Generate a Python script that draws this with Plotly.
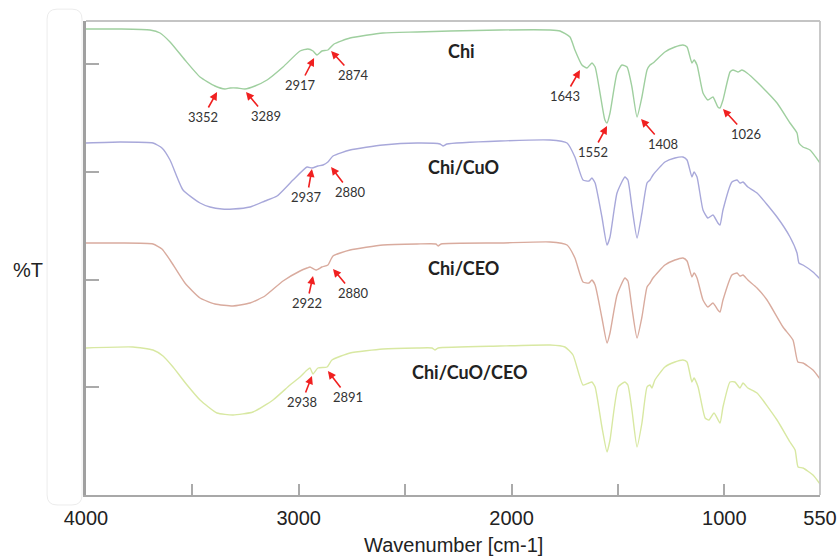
import plotly.graph_objects as go

# ---------------- data ----------------
wn_chi = [4000, 3840, 3699, 3652, 3605, 3535, 3464, 3394, 3347, 3323, 3290, 3253, 3206, 3149, 3074,
          2994, 2957, 2933, 2914, 2891, 2863, 2834, 2759, 2604, 2444, 2289, 2054, 1819, 1772, 1725,
          1702, 1669, 1645, 1622, 1607, 1584, 1561, 1551, 1537, 1504, 1481, 1457, 1434, 1410, 1387,
          1363, 1349, 1335, 1279, 1232, 1194, 1175, 1152, 1142, 1128, 1100, 1077, 1053, 1030, 1020,
          1006, 973, 959, 936, 917, 893, 846, 752, 691, 658, 649, 630, 597, 550]
t_chi = [466, 466, 465, 462, 453, 435, 418, 409, 406, 407, 407, 406, 409, 415, 428,
         444, 446, 444, 440, 444, 445, 451, 457, 462, 463, 464, 465, 465, 464, 458,
         445, 430, 427, 432, 428, 402, 375, 372, 382, 422, 430, 428, 408, 378, 398,
         425, 430, 432, 443, 448, 450, 448, 432, 435, 430, 402, 395, 398, 388, 387,
         395, 423, 425, 423, 425, 422, 413, 392, 372, 362, 352, 348, 345, 332]

wn_cuo = [4000, 3840, 3685, 3643, 3605, 3544, 3464, 3417, 3361, 3309, 3229, 3159, 3102, 3027, 2961,
          2938, 2910, 2886, 2863, 2839, 2759, 2604, 2444, 2336, 2322, 2303, 2054, 1819, 1739, 1702,
          1664, 1636, 1622, 1607, 1575, 1551, 1537, 1504, 1467, 1453, 1434, 1410, 1387, 1363, 1349,
          1335, 1279, 1232, 1194, 1175, 1152, 1142, 1128, 1100, 1077, 1053, 1030, 1020, 1006, 964,
          940, 926, 912, 889, 846, 752, 691, 658, 649, 630, 583, 550]
t_cuo = [352, 353, 352, 347, 335, 305, 292, 288, 286, 286, 288, 294, 299, 315, 328,
         327, 329, 330, 333, 339, 345, 350, 352, 351, 349, 351, 354, 355, 352, 338,
         315, 314, 317, 312, 278, 250, 258, 302, 318, 315, 288, 257, 282, 312, 315,
         320, 333, 337, 338, 335, 318, 323, 318, 285, 277, 280, 272, 270, 285, 313,
         315, 312, 313, 308, 302, 278, 258, 242, 232, 230, 223, 216]

wn_ceo = [4000, 3840, 3685, 3643, 3605, 3535, 3464, 3394, 3309, 3229, 3159, 3074, 2994, 2961, 2947,
          2919, 2891, 2863, 2839, 2759, 2604, 2444, 2355, 2345, 2331, 2054, 1819, 1739, 1702, 1664,
          1636, 1622, 1607, 1575, 1551, 1537, 1504, 1467, 1453, 1434, 1410, 1387, 1363, 1349, 1335,
          1279, 1232, 1194, 1175, 1152, 1142, 1128, 1100, 1077, 1053, 1030, 1020, 1006, 964, 940,
          926, 912, 889, 846, 799, 724, 677, 654, 630, 583, 550]
t_ceo = [252, 252, 251, 246, 235, 212, 197, 191, 189, 192, 199, 214, 224, 227, 228,
         225, 228, 230, 239, 245, 250, 251, 251, 249, 251, 252, 253, 250, 237, 213,
         212, 215, 210, 177, 152, 162, 200, 217, 214, 187, 157, 178, 208, 212, 217,
         230, 235, 237, 234, 218, 222, 217, 195, 188, 192, 185, 183, 195, 220, 222,
         219, 220, 215, 207, 195, 168, 155, 133, 132, 125, 116]

wn_cuoceo = [4000, 3779, 3685, 3638, 3591, 3525, 3464, 3384, 3309, 3215, 3121, 3041, 2994, 2961, 2947,
             2933, 2910, 2867, 2844, 2759, 2604, 2444, 2374, 2360, 2345, 2054, 1819, 1749, 1711, 1664,
             1636, 1622, 1607, 1575, 1551, 1537, 1499, 1467, 1453, 1434, 1410, 1387, 1363, 1349, 1340,
             1326, 1279, 1232, 1194, 1175, 1152, 1142, 1123, 1090, 1072, 1048, 1020, 1006, 973, 950,
             926, 912, 889, 846, 752, 691, 667, 653, 630, 583, 550]
t_cuoceo = [147, 148, 145, 139, 128, 110, 95, 82, 80, 83, 95, 110, 118, 125, 127,
            121, 127, 128, 135, 142, 146, 147, 147, 145, 147, 149, 150, 148, 140, 110,
            112, 113, 108, 68, 43, 55, 108, 113, 110, 85, 48, 72, 108, 110, 107,
            115, 128, 133, 135, 133, 113, 117, 108, 77, 75, 82, 72, 88, 113, 113,
            107, 112, 107, 102, 75, 53, 45, 28, 27, 20, 11]

sample_names = ["Chi", "Chi/CuO", "Chi/CEO", "Chi/CuO/CEO"]
peak_labels = [
    ["3352", "3289", "2917", "2874", "1643", "1552", "1408", "1026"],
    ["2937", "2880"],
    ["2922", "2880"],
    ["2938", "2891"],
]
x_ticks = [4000, 3500, 3000, 2500, 2000, 1500, 1000, 550]
x_tick_text = ["4000", "", "3000", "", "2000", "", "1000", "550"]
y_ticks = [108, 215.5, 323, 431]

# ---------------- styling / placement ----------------
colors = ["#9fcf9f", "#a8a8da", "#d9ab9e", "#d8e8a2"]
# arrow heads (x in cm-1, y in plot units) and text offsets (px) for each peak label
peak_place = [
    [(3384, 403, -14, 25), (3248, 403, 20, 24), (2928, 437, -14, 27), (2848, 444, 22, 24),
     (1678, 425, -15, 26), (1551, 369, -14, 26), (1391, 376, 22, 25), (1006, 386, 23, 25)],
    [(2938, 326, -5, 28), (2848, 328, 19, 25)],
    [(2933, 219, -6, 27), (2839, 226, 20, 24)],
    [(2938, 119, -10, 26), (2863, 124, 20, 26)],
]
name_place = [(2233, 444), (2228, 328), (2228, 227), (2195, 123)]

wn_all = [wn_chi, wn_cuo, wn_ceo, wn_cuoceo]
t_all = [t_chi, t_cuo, t_ceo, t_cuoceo]

fig = go.Figure()
for name, xs, ys, col in zip(sample_names, wn_all, t_all, colors):
    fig.add_trace(go.Scatter(x=xs, y=ys, mode="lines", name=name,
                             line=dict(color=col, width=1.4, shape="spline", smoothing=0.5),
                             hoverinfo="skip", showlegend=False))

annotations = []
for labels, places in zip(peak_labels, peak_place):
    for lab, (hx, hy, ax, ay) in zip(labels, places):
        annotations.append(dict(x=hx, y=hy, xref="x", yref="y", text=lab, showarrow=True,
                                ax=ax, ay=ay, arrowhead=2, arrowsize=1, arrowwidth=1.6,
                                arrowcolor="#f02020", standoff=0, startstandoff=0,
                                font=dict(family="Lato", size=13, color="#333333")))
for name, (nx, ny) in zip(sample_names, name_place):
    annotations.append(dict(x=nx, y=ny, xref="x", yref="y", text="<b>" + name + "</b>",
                            showarrow=False, font=dict(family="Lato", size=18, color="#222222")))

annotations.append(dict(x=0.5, y=-0.106, xref="paper", yref="paper", text="Wavenumber [cm-1]",
                        showarrow=False, xanchor="center", yanchor="middle",
                        font=dict(family="Liberation Sans", size=20, color="#222222")))
annotations.append(dict(x=-0.079, y=0.475, xref="paper", yref="paper", text="%T",
                        showarrow=False, xanchor="center", yanchor="middle",
                        font=dict(family="Liberation Sans", size=20, color="#222222")))

# faint rounded frame at the left
rx, ry = 0.0136, 0.021
x0, x1, y0, y1 = -0.053, -0.0054, -0.021, 1.025
path = (f"M {x0+rx},{y0} L {x1-rx},{y0} Q {x1},{y0} {x1},{y0+ry} L {x1},{y1-ry} "
        f"Q {x1},{y1} {x1-rx},{y1} L {x0+rx},{y1} Q {x0},{y1} {x0},{y1-ry} L {x0},{y0+ry} "
        f"Q {x0},{y0} {x0+rx},{y0} Z")

shapes = [
    dict(type="path", path=path, xref="paper", yref="paper",
         line=dict(color="#ececec", width=1), layer="below"),
    # top and right frame lines (lighter than the main axes)
    dict(type="line", xref="paper", yref="paper", x0=0, x1=1, y0=1, y1=1,
         line=dict(color="#c4c4c4", width=1.8)),
    dict(type="line", xref="paper", yref="paper", x0=1, x1=1, y0=0, y1=1,
         line=dict(color="#c4c4c4", width=1.8)),
]

fig.update_layout(
    width=839, height=556, autosize=False,
    margin=dict(l=86, r=19, t=21, b=61, autoexpand=False),
    paper_bgcolor="white", plot_bgcolor="white",
    annotations=annotations,
    shapes=shapes,
    xaxis=dict(range=[4000, 550], tickmode="array", tickvals=x_ticks, ticktext=x_tick_text,
               ticks="inside", ticklen=11, tickwidth=1.5, tickcolor="#aaaaaa",
               showline=True, linecolor="#a8a8a8", linewidth=2.2, mirror=False,
               showgrid=False, zeroline=False, automargin=False, ticklabelstandoff=4,
               tickfont=dict(family="Liberation Sans", size=20, color="#222222")),
    yaxis=dict(range=[0, 474], tickmode="array", tickvals=y_ticks, showticklabels=False,
               ticks="inside", ticklen=13, tickwidth=2, tickcolor="#aaaaaa",
               showline=True, linecolor="#a0a0a0", linewidth=2.8, mirror=False,
               showgrid=False, zeroline=False, automargin=False),
)

fig.write_html("out.html")
